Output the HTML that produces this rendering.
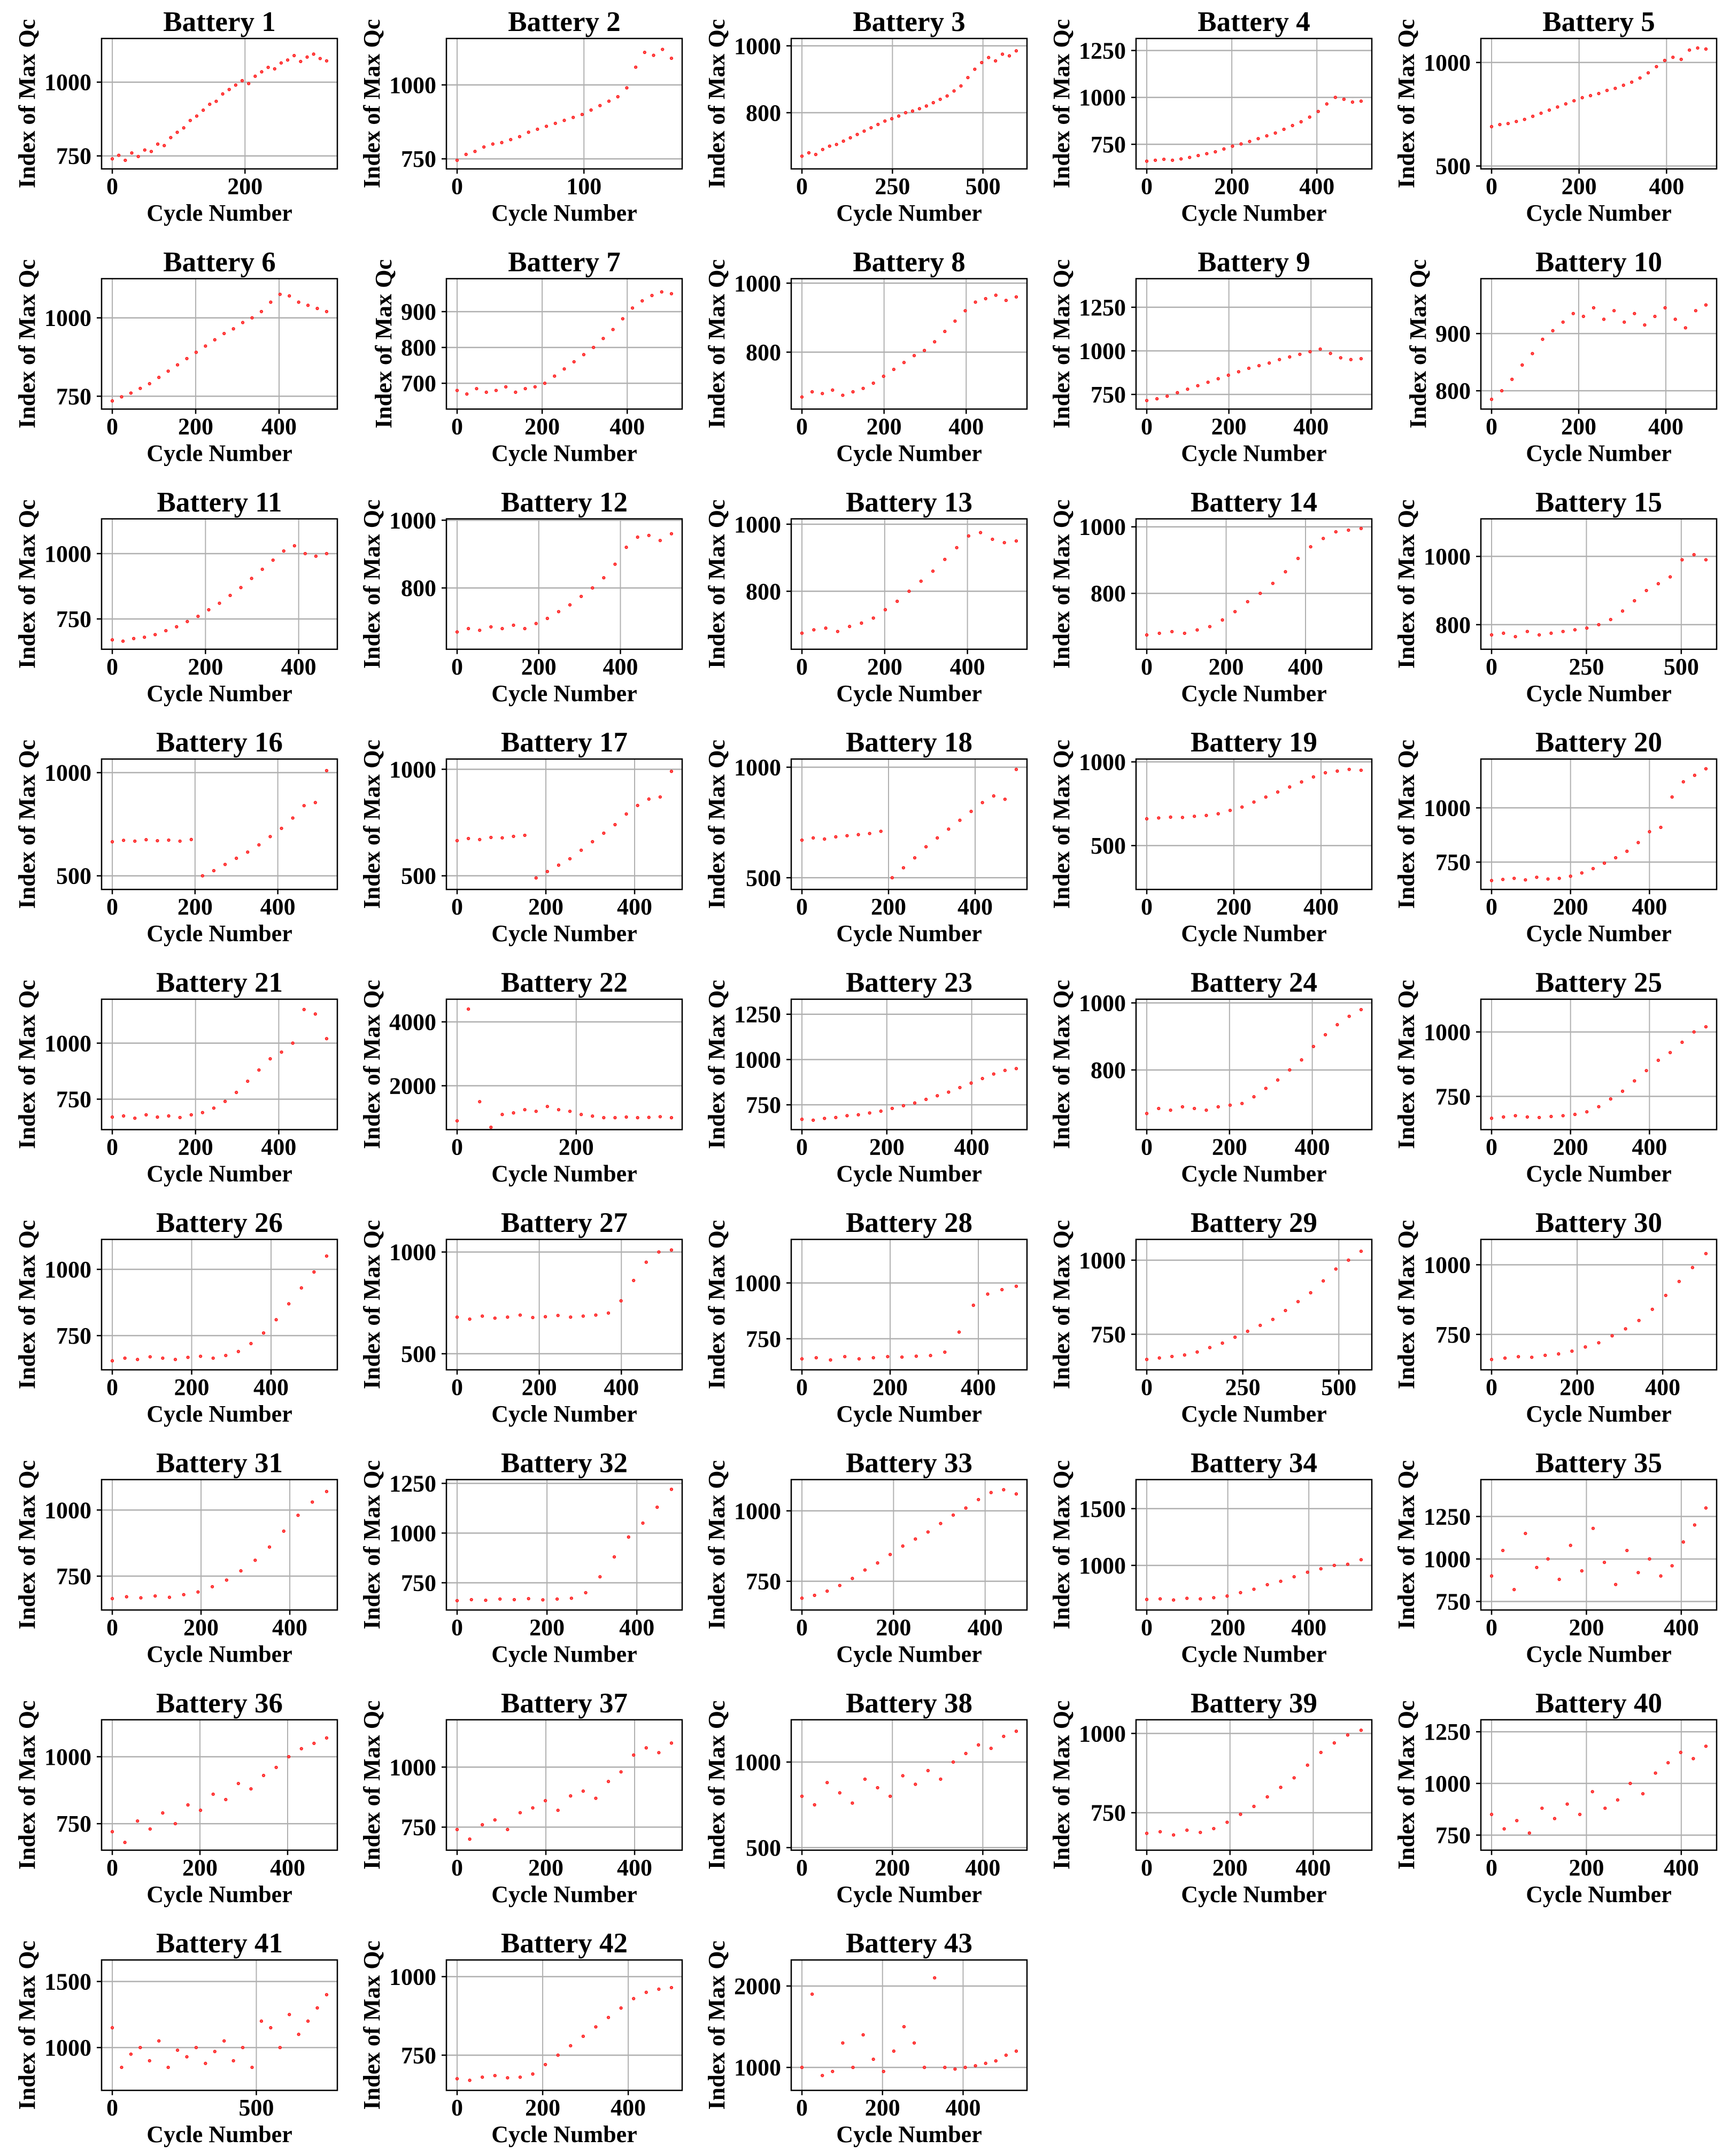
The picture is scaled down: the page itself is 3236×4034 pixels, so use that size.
<!DOCTYPE html>
<html>
<head>
<meta charset="utf-8">
<style>
html,body{margin:0;padding:0;background:#fff;}
svg{display:block;}
text{font-family:"Liberation Serif","DejaVu Serif",serif;font-weight:bold;fill:#000;}
</style>
</head>
<body>
<svg id="chart" xmlns="http://www.w3.org/2000/svg" width="3236" height="4034" viewBox="0 0 3236 4034"></svg>
<script>
// ---- data ----
const batteryLabels = Array.from({length:43},(_,i)=>"Battery "+(i+1));
const lastCycle = [323,169,592,504,490, 514,504,522,522,492, 460,525,518,540,565, 518,483,495,492,543, 515,360,505,518,543, 540,522,486,558,501, 483,477,468,529,452, 489,483,474,515,452, 744,501,532];
const yLims = [
 [706,1148],[716,1157],[632,1022],[619,1314],[486,1116],
 [709,1125],[628,992],[635,1013],[666,1414],[768,996],
 [634,1133],[619,1004],[627,1016],[632,1024],[728,1110],
 [434,1066],[436,1048],[447,1037],[238,1017],[624,1225],
 [614,1196],[626,4709],[613,1333],[622,1011],[621,1127],
 [621,1113],[421,1062],[611,1195],[630,1070],[623,1091],
 [622,1115],[613,1269],[648,1111],[607,1756],[700,1467],
 [651,1138],[654,1197],[485,1247],[632,1043],[677,1308],
 [676,1663],[638,1053],[718,2320]];
const yTicks = [
 [750,1000],[750,1000],[800,1000],[750,1000,1250],[500,1000],
 [750,1000],[700,800,900],[800,1000],[750,1000,1250],[800,900],
 [750,1000],[800,1000],[800,1000],[800,1000],[800,1000],
 [500,1000],[500,1000],[500,1000],[500,1000],[750,1000],
 [750,1000],[2000,4000],[750,1000,1250],[800,1000],[750,1000],
 [750,1000],[500,1000],[750,1000],[750,1000],[750,1000],
 [750,1000],[750,1000,1250],[750,1000],[1000,1500],[750,1000,1250],
 [750,1000],[750,1000],[500,1000],[750,1000],[750,1000,1250],
 [1000,1500],[750,1000],[1000,2000]];
const xTickStep = [200,100,250,200,200, 200,200,200,200,200, 200,200,200,200,250, 200,200,200,200,200, 200,200,200,200,200, 200,200,200,250,200, 200,200,200,200,200, 200,200,200,200,200, 500,200,200];
const qcValues = [
 [740,752,735,760,748,770,765,790,785,812,830,845,870,885,905,925,935,960,975,990,1005,995,1020,1035,1050,1045,1065,1075,1090,1070,1085,1095,1080,1072],
 [745,765,775,790,800,805,815,825,840,850,860,870,880,890,900,915,930,945,960,990,1060,1110,1100,1120,1090],
 [670,680,675,690,700,705,715,725,735,745,755,765,775,782,790,800,805,812,820,830,840,850,865,880,905,930,950,965,955,975,970,985],
 [660,665,670,665,672,680,690,700,710,725,740,752,765,780,795,810,830,850,870,895,925,965,1000,990,975,980],
 [690,700,705,715,725,740,755,770,785,800,815,830,840,850,865,875,890,905,925,950,980,1010,1025,1015,1060,1070,1065],
 [735,748,760,775,790,810,830,850,870,890,910,930,950,965,985,1000,1020,1050,1075,1070,1050,1040,1030,1020],
 [680,670,685,675,680,690,675,685,690,700,720,740,760,780,800,825,850,880,910,930,945,955,950],
 [670,685,680,690,675,685,695,710,730,750,770,790,805,830,860,890,920,945,955,965,950,960],
 [715,725,740,760,780,800,820,840,860,880,900,915,930,950,965,980,995,1010,985,960,950,955],
 [785,800,820,845,865,890,905,920,935,930,945,925,940,920,935,915,930,945,925,910,940,950],
 [670,665,675,680,690,705,720,740,760,785,810,840,870,905,940,975,1010,1030,1000,990,1000],
 [670,680,675,685,680,690,680,695,710,730,750,775,800,830,870,920,950,955,940,960],
 [675,685,690,680,695,705,720,745,770,800,830,860,895,930,965,975,955,945,950],
 [675,680,685,680,690,700,720,745,775,800,830,865,905,940,965,985,990,995],
 [770,775,765,780,770,775,780,785,790,800,815,840,870,900,920,940,990,1005,990],
 [665,672,668,675,670,673,668,676,500,525,555,585,615,650,690,730,780,840,855,1010],
 [665,675,670,680,678,685,690,490,520,550,580,620,660,700,740,790,830,860,870,990],
 [670,680,675,685,690,695,700,710,500,545,590,640,680,720,760,800,840,870,855,990],
 [660,665,670,668,675,680,690,710,730,760,790,820,850,880,910,935,945,955,950],
 [665,670,675,668,680,672,675,685,700,720,745,770,800,840,890,910,1050,1120,1150,1180],
 [670,675,665,680,670,675,668,680,690,710,740,780,830,880,930,960,1000,1150,1130,1020],
 [900,4400,1500,700,1100,1150,1250,1200,1350,1250,1200,1100,1050,1000,1000,1020,1000,1010,1030,1000],
 [670,665,675,680,690,695,705,715,730,745,760,780,800,820,845,870,895,920,940,950],
 [670,685,680,690,685,680,690,695,700,720,745,770,800,830,870,905,935,960,980],
 [665,670,675,670,668,672,675,680,690,710,740,770,810,850,890,920,960,1000,1020],
 [655,665,660,670,665,660,668,672,665,675,690,720,760,810,870,930,990,1050],
 [680,670,685,675,680,690,678,682,688,680,685,690,700,760,860,950,1000,1010],
 [660,665,655,670,660,665,670,668,672,675,690,780,900,950,970,985],
 [665,670,675,680,690,705,720,740,760,780,800,830,860,890,930,970,1000,1030],
 [660,665,670,668,675,680,690,705,720,745,770,800,840,890,940,990,1040],
 [665,672,668,675,670,680,690,710,735,770,810,860,920,980,1030,1070],
 [660,665,662,668,665,670,664,668,672,700,780,880,980,1050,1130,1220],
 [690,700,715,735,760,790,815,845,875,900,925,955,985,1010,1040,1065,1075,1060],
 [700,705,695,710,705,715,730,760,790,830,860,900,940,970,1000,1010,1050],
 [900,1050,820,1150,950,1000,880,1080,930,1180,980,850,1050,920,1000,900,960,1100,1200,1300],
 [720,680,760,730,790,750,820,800,860,840,900,880,930,960,1000,1030,1050,1070],
 [740,700,760,780,740,810,830,860,820,880,900,870,940,980,1050,1080,1060,1100],
 [800,750,880,820,760,900,850,800,920,870,950,900,1000,1050,1100,1080,1150,1180],
 [685,690,680,695,688,700,720,745,770,800,830,860,900,940,970,995,1010],
 [850,780,820,760,880,830,900,850,960,880,920,1000,950,1050,1100,1150,1120,1180],
 [1150,850,950,1000,900,1050,850,980,930,1000,880,970,1050,900,1000,850,1200,1150,1000,1250,1100,1200,1300,1400],
 [675,670,680,685,678,680,690,720,750,780,810,840,870,900,930,950,960,965],
 [1000,1900,900,950,1300,1000,1400,1100,950,1200,1500,1300,1000,2100,1000,980,1000,1020,1050,1080,1150,1200]
];

// ---- layout ----
const NS = "http://www.w3.org/2000/svg";
const svg = document.getElementById("chart");
const AX_W = 441, AX_H = 244, COL = 645, ROW = 449.4, LEFT0 = 190, TOP0 = 72;
const TICK_FS = 44, TITLE_FS = 53;

function mk(tag, attrs, parent){
  const e = document.createElementNS(NS, tag);
  for (const k in attrs) e.setAttribute(k, attrs[k]);
  (parent || svg).appendChild(e);
  return e;
}

for (let b = 0; b < 43; b++){
  const c = b % 5, r = Math.floor(b / 5);
  const x0 = LEFT0 + COL * c, y0 = TOP0 + ROW * r;
  const N = lastCycle[b];
  const xmin = -0.05 * N, xmax = 1.05 * N;
  const ymin = yLims[b][0], ymax = yLims[b][1];
  const sx = v => x0 + (v - xmin) / (xmax - xmin) * AX_W;
  const sy = v => y0 + (ymax - v) / (ymax - ymin) * AX_H;

  const g = mk("g", {});
  
  

  // title
  const t = mk("text", {x: x0 + AX_W / 2, y: y0 - 14, "text-anchor": "middle", "font-size": TITLE_FS}, g);
  t.textContent = batteryLabels[b];
  
  

  // x grid + ticks
  const xt = [];
  for (let v = 0; v <= xmax; v += xTickStep[b]) xt.push(v);
  xt.forEach(v => {
    const px = sx(v);
    const gl = mk("line", {x1: px, x2: px, y1: y0, y2: y0 + AX_H, stroke: "#b0b0b0", "stroke-width": 2}, g);
    
    
    const tk = mk("line", {x1: px, x2: px, y1: y0 + AX_H, y2: y0 + AX_H + 9, stroke: "#000", "stroke-width": 2.5}, g);
    
    
    const tl = mk("text", {x: px, y: y0 + AX_H + 47, "text-anchor": "middle", "font-size": TICK_FS}, g);
    tl.textContent = String(v);
    
    
  });

  // y grid + ticks
  let maxDigits = 0;
  yTicks[b].forEach(v => {
    if (v < ymin || v > ymax) return;
    const py = sy(v);
    maxDigits = Math.max(maxDigits, String(v).length);
    const gl = mk("line", {x1: x0, x2: x0 + AX_W, y1: py, y2: py, stroke: "#b0b0b0", "stroke-width": 2.5}, g);
    
    
    const tk = mk("line", {x1: x0 - 9, x2: x0, y1: py, y2: py, stroke: "#000", "stroke-width": 2.5}, g);
    
    
    const tl = mk("text", {x: x0 - 19, y: py + 15, "text-anchor": "end", "font-size": TICK_FS}, g);
    tl.textContent = String(v);
    
    
  });

  // points
  const vals = qcValues[b];
  const step = N / (vals.length - 1);
  vals.forEach((v, i) => {
    if (v < ymin || v > ymax) return;
    const p = mk("circle", {cx: sx(i * step), cy: sy(v), r: 2.6, fill: "#ff5050", stroke: "#ff0000", "stroke-width": 1}, g);
    
    
  });

  // frame
  const fr = mk("rect", {x: x0, y: y0, width: AX_W, height: AX_H, fill: "none", stroke: "#000", "stroke-width": 2.5}, g);
  
  

  // axis labels
  const xl = mk("text", {x: x0 + AX_W / 2, y: y0 + AX_H + 97, "text-anchor": "middle", "font-size": TICK_FS}, g);
  xl.textContent = "Cycle Number";
  
  

  const lx = x0 - 19 - 22 * maxDigits - 18, ly = y0 + AX_H / 2;
  const yl = mk("text", {x: lx, y: ly, "text-anchor": "middle", "font-size": TICK_FS, transform: "rotate(-90 " + lx + " " + ly + ")"}, g);
  yl.textContent = "Index of Max Qc";
  
  
}
</script>
</body>
</html>
